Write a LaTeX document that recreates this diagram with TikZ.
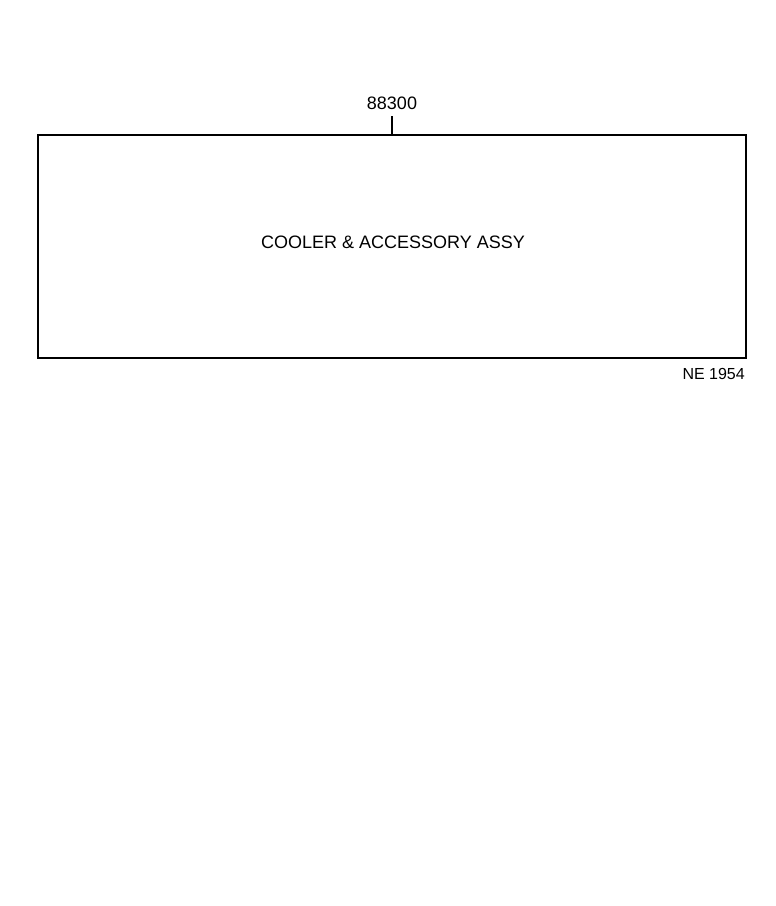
\documentclass[tikz,border=0pt]{standalone}
\usepackage{fontspec}
\setmainfont{Liberation Sans}
\begin{document}
\begin{tikzpicture}[x=1pt,y=-1pt,
  frame/.style={draw=black,line width=1.6pt},
  lead/.style={draw=black,line width=1.6pt},
  lbl/.style={inner sep=0pt,font=\fontsize{18}{20}\selectfont},
  code/.style={inner sep=0pt,font=\fontsize{16}{18}\selectfont}]
\useasboundingbox[fill=white] (0,0) rectangle (776,906);
\node[frame,minimum width=708pt,minimum height=223pt,inner sep=0pt,anchor=north west] (box) at (37,134) {};
\coordinate (top) at (392,134);
\node[lbl,anchor=center] (num) at (392,103) {88300};
\draw[lead] (top) -- (num.south |- 0,116);
\node[lbl,anchor=center] (title) at (393,242) {COOLER \& ACCESSORY ASSY};
\node[code,anchor=east] (ne) at (745,374) {NE 1954};
\end{tikzpicture}
\end{document}
